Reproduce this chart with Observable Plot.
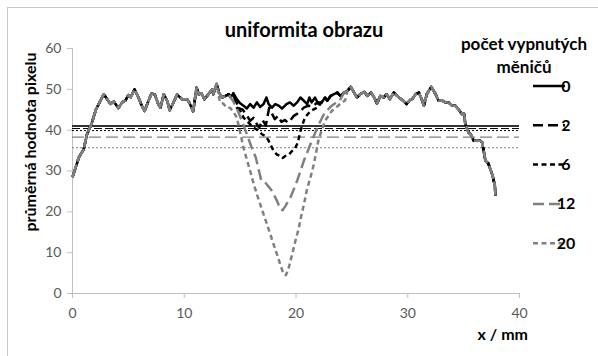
<!DOCTYPE html>
<html>
<head>
<meta charset="utf-8">
<script src="https://cdn.jsdelivr.net/npm/d3@7"></script>
<script src="https://cdn.jsdelivr.net/npm/@observablehq/plot@0.6"></script>
<style>
  html, body { margin: 0; padding: 0; background: #fff; overflow: hidden; }
  #wrap { position: relative; width: 598px; height: 356px; }
  #frame { position: absolute; left: 7px; top: 7px; width: 620px; height: 380px; border: 1px solid #c8c8c8; box-sizing: border-box; }
  #chart { position: absolute; left: 0; top: 0; }
</style>
</head>
<body>
<div id="wrap"><div id="frame"></div><div id="chart"></div></div>
<script>
// ---- data ----
const title = "uniformita obrazu";
const yLabel = "průměrná hodnota pixelu";
const xLabel = "x / mm";
const legendTitle = ["počet vypnutých", "měničů"];
const seriesNames = ["0", "2", "6", "12", "20"];
const xTicks = [0, 10, 20, 30, 40];
const yTicks = [0, 10, 20, 30, 40, 50, 60];

// series "0" (full profile)
const baseX = [0,0.3,0.56,1.0,1.3,1.7,2.1,2.35,2.8,3.1,3.4,3.7,4.1,4.45,4.74,5.0,5.2,5.55,5.9,6.2,6.45,6.8,7.07,7.37,7.67,7.87,8.17,8.47,8.7,8.97,9.36,9.8,10.26,10.5,10.8,11.1,11.3,11.55,11.8,12.05,12.5,12.6,12.9,13.1,13.4,13.7,14.0,14.15,14.4,14.7,15.0,15.3,15.6,15.9,16.2,16.5,16.8,17.1,17.35,17.55,17.85,18.15,18.45,18.75,19.15,19.45,19.8,20.1,20.4,20.7,21.0,21.2,21.4,21.7,22.0,22.3,22.6,22.8,23.1,23.4,23.7,24.0,24.3,24.6,24.9,25.2,25.45,25.75,26.1,26.4,26.7,27.0,27.25,27.55,27.85,28.1,28.4,28.75,29.05,29.3,29.6,29.9,30.2,30.4,30.7,31.0,31.3,31.45,31.7,32.1,32.5,32.75,33.05,33.35,33.65,33.95,34.25,34.55,34.85,35.05,35.15,35.45,35.65,35.9,36.2,36.5,36.65,36.8,36.95,37.2,37.4,37.6,37.8,37.85];
const baseV = [28.5,31,33.3,35.3,39,41.5,45.1,46.4,48.8,47.6,46.4,47,45.4,46.8,47.3,48.6,48,50,48,46,44.7,47.2,49,48.7,46.4,45.5,48.8,47.2,44.9,46.4,48.7,47.6,47.6,46.5,44.6,50.4,48.8,49,47.6,48.4,50,48.8,51.3,49.2,48,48.4,48.8,48,49,47.6,46.6,46,45.3,46.4,45.5,46.8,45.7,46.4,48,46.4,45.5,46.4,46,45.3,46.4,46.8,46,46.8,48,47.2,46.4,48,46.8,48,46.4,46.8,48,47.2,48.4,48.8,49.2,48.3,49.2,49.6,50.6,49.2,48,48.8,49.4,48.4,49.2,48,46.5,48.4,48,48.8,47.6,49.2,48.4,47.8,47.2,46.4,47.4,47.6,48.8,49.2,47.2,46,48.8,50.6,48.8,47.2,47.3,46.8,46.8,46,46,45.1,43.9,44,41.5,39.4,38.9,37.4,37.4,37.4,37,34.9,32.5,31.9,30.4,28.8,26.3,23.9];

// where the other series depart from the shared profile, and their own points there
const dipRange = { "2": [14.5, 22.0], "6": [14.6, 22.3], "12": [14.2, 24.0], "20": [13.0, 24.5] };
const dip2X = [14.7,15.2,15.5,15.9,16.2,16.5,16.7,17.0,17.3,17.6,17.8,18.1,18.4,18.7,19.0,19.3,19.6,19.8,20.1,20.4,20.7,21.1,21.5,21.9];
const dip2V = [45.5,45.1,44,42.3,43,41.5,40.6,42.5,41.2,45.5,44.3,42.7,43.5,42,42.5,41.8,42.8,43.5,44,44.7,45.5,46,45.8,46.8];
const dip6X = [14.8,15.3,15.7,16.2,16.6,16.95,17.3,17.55,17.8,18.0,18.3,18.6,18.8,19.05,19.35,19.65,19.9,20.1,20.25,20.4,20.6,20.8,21.3,21.9,22.2];
const dip6V = [46,43.1,42,40.6,40,39,38.5,37.4,36,34.9,34,33.7,33.2,33.7,34,34.9,35.5,36.6,38,39.8,41.5,43.1,44.7,45.5,46.5];
const dip12X = [14.4,14.8,15.2,15.6,16.0,16.4,16.9,17.3,17.6,17.85,18.3,18.6,18.8,19.05,19.5,19.8,20.1,20.4,20.7,21.0,21.3,21.6,21.9,22.2,22.5,22.85,23.2,23.6,23.9];
const dip12V = [47,44.7,42,39,36,33.3,27.6,27,26,25.1,22.7,20.6,20.4,21.4,23.5,25.5,27.6,30,32.5,34.5,36.6,38.6,40.6,42.3,43.9,45,46,46.8,47.2];
const dip20X = [13.2,13.5,13.8,14.1,14.4,14.7,15.0,15.3,15.6,15.9,16.2,16.5,16.8,17.1,17.4,17.7,18.0,18.3,18.6,18.9,19.1,19.35,19.65,19.95,20.25,20.5,20.75,20.95,21.3,21.6,22.0,22.3,22.6,22.9,23.2,23.6,23.95,24.4];
const dip20V = [46.8,46.5,45.5,45.5,44.5,43.1,39.5,35.7,32.8,30,27,24.3,21.8,19.4,17,14.5,12,9.6,7,4.7,4.5,6.3,9.5,12.9,16,19.4,22.3,25.1,28.5,31.7,37.4,40,42.3,43.5,44.7,45.6,46.4,47.3];

// mean levels (horizontal lines)
const meanValues = [41.0, 40.4, 39.9, 38.3, 35.7];

// ---- build tables ----
const base = baseX.map((x, i) => ({x, v: baseV[i]}));
function withDip(name, dx, dv) {
  const [lo, hi] = dipRange[name];
  const pts = base.filter(d => d.x < lo || d.x > hi).concat(dx.map((x, i) => ({x, v: dv[i]})));
  return pts.sort((a, b) => a.x - b.x);
}
const seriesData = {
  "0": base,
  "2": withDip("2", dip2X, dip2V),
  "6": withDip("6", dip6X, dip6V),
  "12": withDip("12", dip12X, dip12V),
  "20": withDip("20", dip20X, dip20V)
};

const black = "#000000", gray = "#808080";
const styles = {
  "0":  {stroke: black, dash: null},
  "2":  {stroke: black, dash: "10,5"},
  "6":  {stroke: black, dash: "5,3.5"},
  "12": {stroke: gray,  dash: "11,5"},
  "20": {stroke: gray,  dash: "5,3.5"}
};
const meanStyles = [
  {stroke: "#333", dash: null, w: 2},
  {stroke: black, dash: "8,3", w: 1},
  {stroke: black, dash: "2,2", w: 1},
  {stroke: gray, dash: "12,5", w: 1.25},
  {stroke: gray, dash: "2,2", w: 1}
];

const marks = [];
meanValues.forEach((m, i) => {
  const s = meanStyles[i];
  marks.push(Plot.ruleY([m], {x1: 0, x2: 40, stroke: s.stroke, strokeWidth: s.w, strokeDasharray: s.dash ?? undefined}));
});
seriesNames.forEach(n => {
  const s = styles[n];
  marks.push(Plot.line(seriesData[n], {x: "x", y: "v", stroke: s.stroke, strokeWidth: 2.5,
    strokeDasharray: s.dash ?? undefined, strokeLinejoin: "round", strokeLinecap: "butt", curve: "linear"}));
});

const chart = Plot.plot({
  width: 598, height: 356,
  marginLeft: 72, marginRight: 79, marginTop: 48, marginBottom: 63,
  x: {domain: [0, 40]},
  y: {domain: [0, 60]},
  style: {fontFamily: "Lato, 'Open Sans', sans-serif", fontSize: "14px", color: "#595959", background: "transparent", overflow: "visible"},
  marks: [
    Plot.ruleX([0], {stroke: "#c0c0c0"}),
    Plot.ruleY([0], {stroke: "#c0c0c0"}),
    Plot.axisX({ticks: xTicks, tickSize: 5, tickPadding: 10, stroke: "#c0c0c0", fill: "#595959", label: null}),
    Plot.axisY({ticks: yTicks, tickSize: 5, tickPadding: 6, stroke: "#c0c0c0", fill: "#595959", label: null}),
    ...marks
  ]
});
document.getElementById("chart").appendChild(chart);

// ---- titles & legend as SVG text ----
const svg = d3.select(chart);
const font = "Lato, 'Open Sans', sans-serif";
svg.append("text").attr("x", 304).attr("y", 37).attr("text-anchor", "middle")
  .attr("font-family", font).attr("font-weight", "bold").attr("font-size", 20).attr("fill", "#000").text(title);
svg.append("text").attr("transform", "translate(36,142) rotate(-90)").attr("text-anchor", "middle")
  .attr("font-family", font).attr("font-weight", "bold").attr("font-size", 16).attr("fill", "#000").text(yLabel);
svg.append("text").attr("x", 528).attr("y", 340).attr("text-anchor", "end")
  .attr("font-family", font).attr("font-weight", "bold").attr("font-size", 16).attr("fill", "#000").text(xLabel);
legendTitle.forEach((t, i) => {
  svg.append("text").attr("x", 524).attr("y", 50 + i * 23).attr("text-anchor", "middle")
    .attr("font-family", font).attr("font-weight", "bold").attr("font-size", 17).attr("fill", "#000").text(t);
});
seriesNames.forEach((n, i) => {
  const y = 86 + i * 39.3;
  const s = styles[n];
  const ln = svg.append("line").attr("x1", 533).attr("x2", 565).attr("y1", y).attr("y2", y)
    .attr("stroke", s.stroke).attr("stroke-width", 2.5);
  if (s.dash) ln.attr("stroke-dasharray", s.dash);
  svg.append("text").attr("x", 566).attr("y", y + 5.5)
    .attr("font-family", font).attr("font-weight", "bold").attr("font-size", 16).attr("fill", "#000").text(n);
});
</script>
</body>
</html>
